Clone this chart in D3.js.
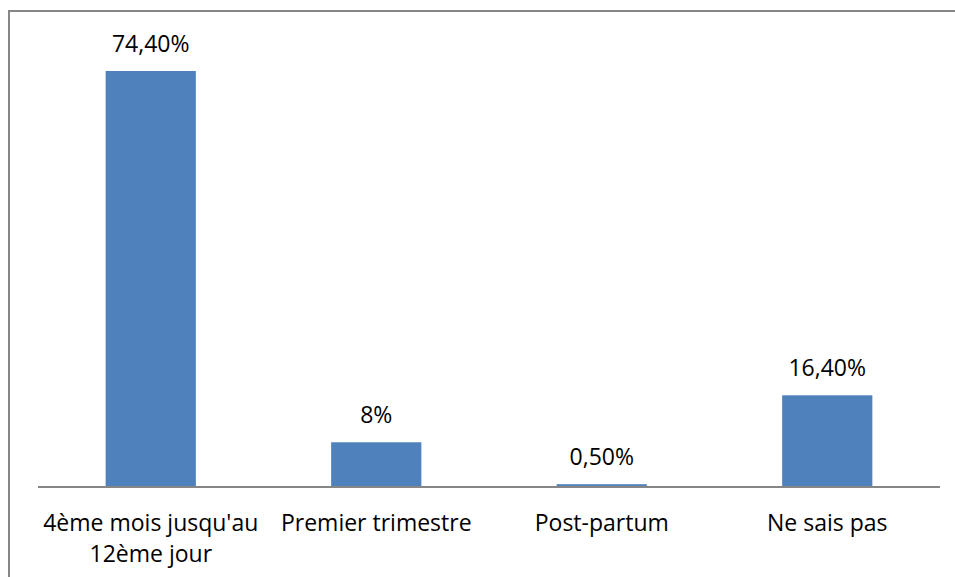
<!DOCTYPE html>
<html>
<head>
<meta charset="utf-8">
<script src="https://cdn.jsdelivr.net/npm/d3@7"></script>
<style>
  body { margin: 0; background: #fff; }
  svg { display: block; }
  text { font-family: "Open Sans", "Noto Sans", sans-serif; fill: #000; }
</style>
</head>
<body>
<svg id="chart"></svg>
<script>
var WIDTH = 955;
var HEIGHT = 577;

// data
var categories = ["4ème mois jusqu'au\n12ème jour", "Premier trimestre", "Post-partum", "Ne sais pas"];
var values = [74.4, 8, 0.5, 16.4];
var valueLabels = ["74,40%", "8%", "0,50%", "16,40%"];

var svg = d3.select('#chart')
  .attr('width', WIDTH)
  .attr('height', HEIGHT);

// outer frame (right and bottom edges run off the picture)
svg.append('rect')
  .attr('x', 9)
  .attr('y', 11)
  .attr('width', WIDTH + 20)
  .attr('height', HEIGHT + 20)
  .attr('fill', 'none')
  .attr('stroke', '#868686')
  .attr('stroke-width', 2);

var xScale = d3.scaleBand()
  .domain(categories)
  .range([38, 940])
  .paddingInner(0.6)
  .paddingOuter(0.3);

var yScale = d3.scaleLinear()
  .domain([0, 80])
  .range([487, 39.7]);

var bars = svg.append('g').attr('id', 'bars');
bars.selectAll('rect')
  .data(values)
  .enter()
  .append('rect')
  .attr('x', function(d, i){ return xScale(categories[i]); })
  .attr('y', function(d){ return yScale(d); })
  .attr('width', xScale.bandwidth())
  .attr('height', function(d){ return yScale(0) - yScale(d); })
  .attr('fill', '#4F81BD');

// value labels
svg.append('g').selectAll('text')
  .data(values)
  .enter()
  .append('text')
  .attr('x', function(d, i){ return xScale(categories[i]) + xScale.bandwidth() / 2; })
  .attr('y', function(d){ return yScale(d) - 19; })
  .attr('text-anchor', 'middle')
  .style('font-size', '23px')
  .text(function(d, i){ return valueLabels[i]; });

// category axis
var botAxis = d3.axisBottom(xScale).tickSize(0).tickPadding(0);
var xAxis = svg.append('g')
  .attr('id', 'x-axis')
  .attr('transform', 'translate(0,' + yScale(0) + ')')
  .call(botAxis);
xAxis.select('.domain')
  .attr('stroke', '#868686')
  .attr('stroke-width', 2)
  .attr('d', 'M38,0H940');
xAxis.selectAll('.tick text').remove();
xAxis.selectAll('.tick').each(function(d){
  var lines = d.split('\n');
  var t = d3.select(this).append('text')
    .attr('text-anchor', 'middle')
    .style('font-size', '23px')
    .attr('fill', '#000');
  lines.forEach(function(line, i){
    t.append('tspan')
      .attr('x', 0)
      .attr('y', 44 + i * 31)
      .text(line);
  });
});
</script>
</body>
</html>
